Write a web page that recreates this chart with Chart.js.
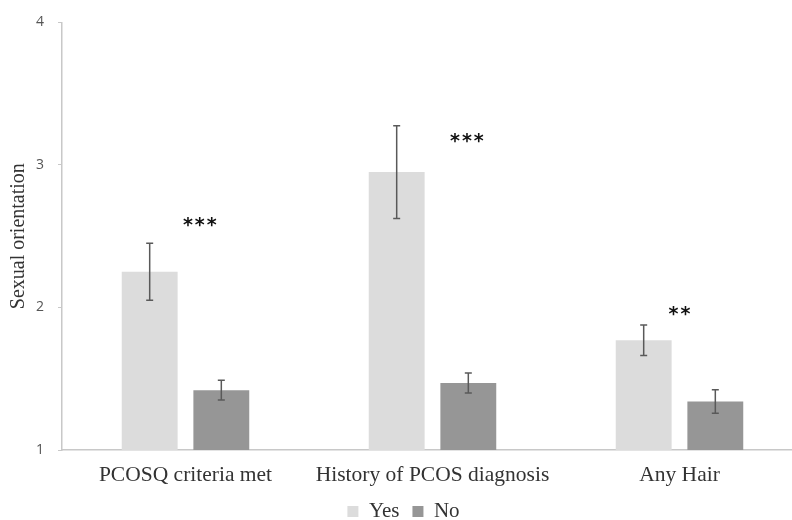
<!DOCTYPE html>
<html>
<head>
<meta charset="utf-8">
<script src="https://cdn.jsdelivr.net/npm/chart.js@4"></script>
<style>
  html, body { margin: 0; padding: 0; background: #fff; overflow: hidden; }
  #wrap { position: absolute; left: 0; top: 0; width: 803px; height: 520px; }
</style>
</head>
<body>
<div id="wrap"><canvas id="chart"></canvas></div>
<script>
// categories and series
const categories = ['PCOSQ criteria met', 'History of PCOS diagnosis', 'Any Hair'];
const yesMeans = [2.25, 2.95, 1.77];
const noMeans = [1.42, 1.47, 1.34];
// error bar half-widths
const yesErr = [0.2, 0.325, 0.107];
const noErr = [0.07, 0.07, 0.083];
// significance marks above each group
const sigLabels = ['***', '***', '**'];
const sigValues = [2.59, 3.18, 1.97];
const sigShift = [0.7, 0.98, 0.5]; // between Yes (0) and No (1) bar centres
const yTicks = [1, 2, 3, 4];

// draws the error bars and the stars through the chart's own scales
const errorBarPlugin = {
    id: 'errorBars',
    afterDatasetsDraw(chart) {
        const ctx = chart.ctx;
        const yScale = chart.scales.y;
        const errs = [yesErr, noErr];
        ctx.save();
        ctx.strokeStyle = '#595959';
        ctx.lineWidth = 1.5;
        chart.data.datasets.forEach((ds, di) => {
            const meta = chart.getDatasetMeta(di);
            meta.data.forEach((bar, i) => {
                const v = ds.data[i];
                const top = yScale.getPixelForValue(v + errs[di][i]);
                const bot = yScale.getPixelForValue(v - errs[di][i]);
                ctx.beginPath();
                ctx.moveTo(bar.x, top);
                ctx.lineTo(bar.x, bot);
                ctx.moveTo(bar.x - 3.5, top);
                ctx.lineTo(bar.x + 3.5, top);
                ctx.moveTo(bar.x - 3.5, bot);
                ctx.lineTo(bar.x + 3.5, bot);
                ctx.stroke();
            });
        });
        // stars
        const yesMeta = chart.getDatasetMeta(0);
        const noMeta = chart.getDatasetMeta(1);
        ctx.fillStyle = '#111';
        ctx.font = 'bold 19px "DejaVu Sans"';
        ctx.textAlign = 'center';
        ctx.textBaseline = 'middle';
        sigLabels.forEach((lab, i) => {
            const x0 = yesMeta.data[i].x;
            const x1 = noMeta.data[i].x;
            const x = x0 + (x1 - x0) * sigShift[i];
            const y = yScale.getPixelForValue(sigValues[i]);
            ctx.fillText(lab.split('').join('\u200A'), x, y + 3);
        });
        ctx.restore();
    }
};

new Chart(document.getElementById('chart'), {
    type: 'bar',
    data: {
        labels: categories,
        datasets: [
            { label: 'Yes', data: yesMeans, backgroundColor: '#dcdcdc' },
            { label: 'No', data: noMeans, backgroundColor: '#969696' }
        ]
    },
    options: {
        responsive: true,
        maintainAspectRatio: false,
        animation: false,
        categoryPercentage: 0.58,
        barPercentage: 0.78,
        layout: { padding: { top: 15, left: 4, right: 0, bottom: -12 } },
        plugins: {
            legend: {
                position: 'bottom',
                labels: {
                    boxWidth: 11,
                    boxHeight: 11,
                    padding: 13,
                    color: '#333',
                    font: { family: '"Liberation Serif", serif', size: 21 }
                }
            },
            tooltip: { enabled: false }
        },
        scales: {
            x: {
                grid: { display: false },
                border: { color: '#c8c8c8', width: 1.5 },
                afterFit: (scale) => { scale.height = 38; },
                ticks: {
                    color: '#333',
                    padding: 4,
                    font: { family: '"Liberation Serif", serif', size: 21.5 }
                }
            },
            y: {
                min: 1,
                max: 4,
                afterBuildTicks: (scale) => { scale.ticks = yTicks.map(v => ({ value: v })); },
                afterFit: (scale) => { scale.width = 58; },
                grid: { drawOnChartArea: false, color: '#c8c8c8', tickLength: 4 },
                border: { color: '#c8c8c8', width: 1.5 },
                ticks: {
                    color: '#555',
                    padding: 14,
                    font: { family: '"Open Sans", sans-serif', size: 14 }
                },
                title: {
                    display: true,
                    text: 'Sexual orientation',
                    color: '#333',
                    padding: { top: 3, bottom: 0 },
                    font: { family: '"Liberation Serif", serif', size: 20 }
                }
            }
        }
    },
    plugins: [errorBarPlugin]
});
</script>
</body>
</html>
